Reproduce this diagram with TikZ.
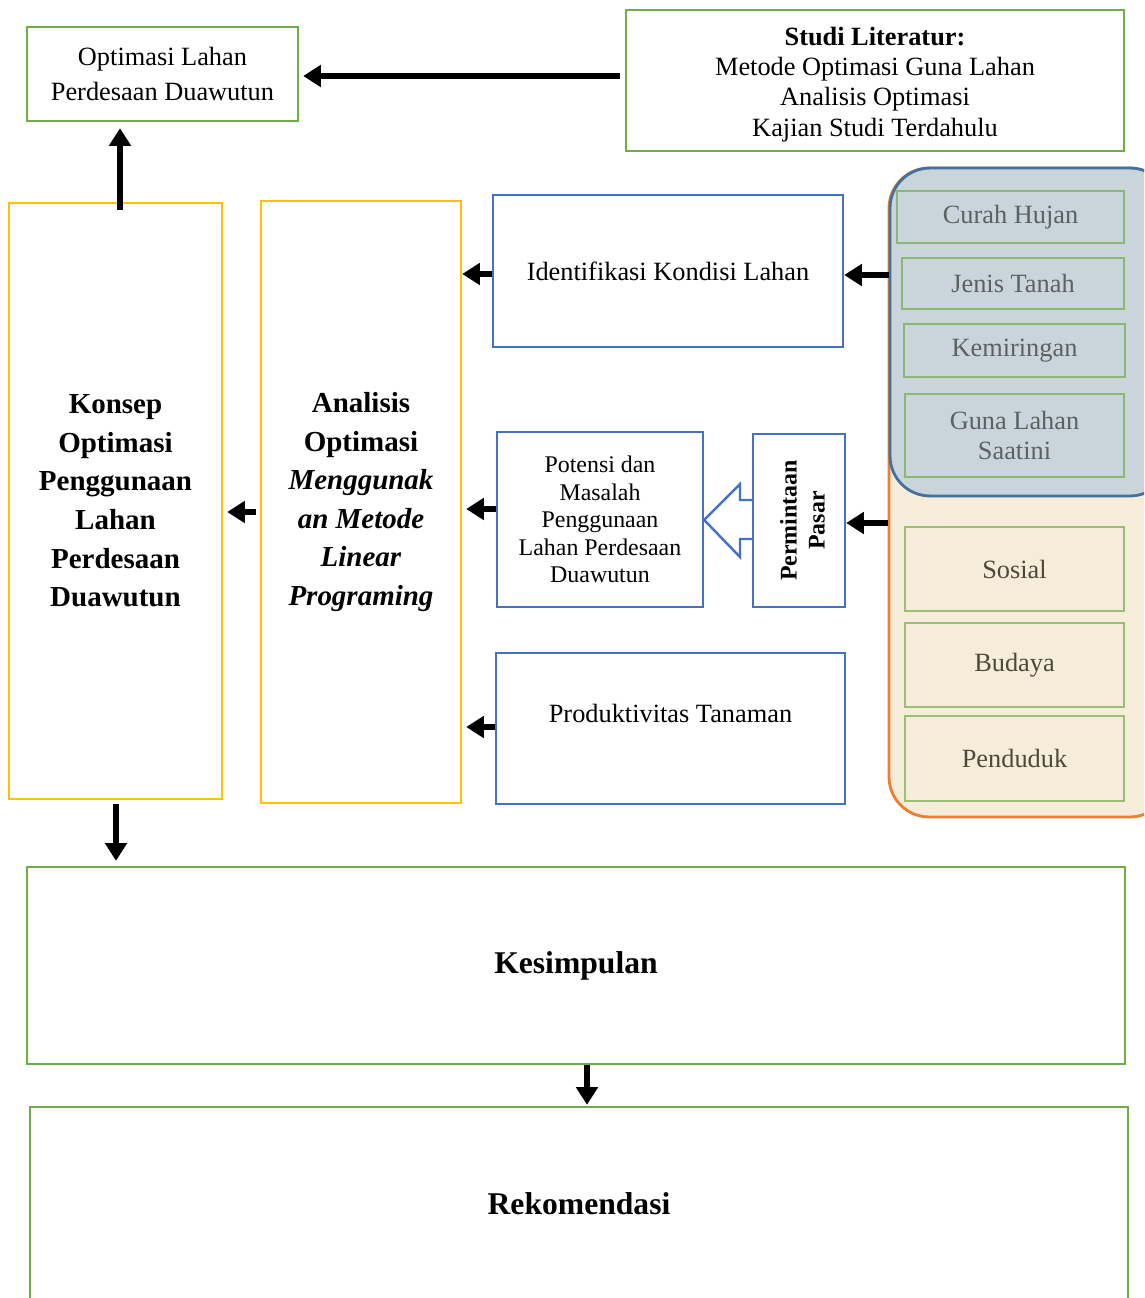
\documentclass[tikz,border=0pt]{standalone}
\usepackage{fontspec}
\setmainfont{Liberation Serif}
\usepackage{graphicx}
\usepackage{tikz}
\usetikzlibrary{arrows.meta}
\definecolor{hijau}{HTML}{70AD47}
\definecolor{kuning}{HTML}{FFC000}
\definecolor{biru}{HTML}{4472C4}
\definecolor{birutua}{HTML}{41719C}
\definecolor{oranye}{HTML}{ED7D31}
\definecolor{abu}{HTML}{C9D5DB}
\definecolor{krem}{HTML}{F5EDDA}
\definecolor{teksabu}{HTML}{5A6262}
\definecolor{tekscoklat}{HTML}{4E4839}
\tikzset{
  hbox/.style={draw=hijau, line width=1.4pt, align=center, inner sep=0pt},
  kbox/.style={draw=kuning, line width=1.4pt, align=center, inner sep=0pt, font=\fontsize{16.5}{22}\selectfont\bfseries},
  bbox/.style={draw=biru, line width=1.4pt, align=center, inner sep=0pt},
  sub/.style={draw=hijau, draw opacity=0.7, line width=1.2pt, align=center, inner sep=0pt, font=\fontsize{15}{17.6}\selectfont},
  panel/.style={line width=1.6pt, rounded corners=0.8cm, inner sep=0pt},
  arr/.style={draw=black, line width=3pt, -{Triangle[width=12pt,length=10pt]}},
  txt/.style={font=\fontsize{15}{20}\selectfont},
}

\begin{document}
\begin{tikzpicture}[x=0.02cm,y=-0.02cm]
  \useasboundingbox (0,0) rectangle (1144,1298);
  \clip (0,0) rectangle (1144,1298);

  % panel kanan
  \node[panel, draw=oranye, fill=krem, minimum width=5.62cm, minimum height=12.98cm] (sosek) at (1029.5,492.5) {};
  \node[panel, draw=birutua, fill=abu, minimum width=5.6cm, minimum height=6.56cm] (fisik) at (1030,332) {};
  \node[sub, text=teksabu, minimum width=4.54cm, minimum height=1.04cm] (curah) at (1010.5,217) {Curah Hujan};
  \node[sub, text=teksabu, minimum width=4.44cm, minimum height=1.02cm] (tanah) at (1013,283.5) {Jenis Tanah};
  \node[sub, text=teksabu, minimum width=4.42cm, minimum height=1.06cm] (miring) at (1014.5,350.5) {Kemiringan};
  \node[sub, text=teksabu, minimum width=4.38cm, minimum height=1.66cm] (guna) at (1014.5,435.5) {Guna Lahan\\Saatini};
  \node[sub, text=tekscoklat, minimum width=4.38cm, minimum height=1.68cm] (sosial) at (1014.5,569) {Sosial};
  \node[sub, text=tekscoklat, minimum width=4.38cm, minimum height=1.68cm] (budaya) at (1014.5,665) {Budaya};
  \node[sub, text=tekscoklat, minimum width=4.38cm, minimum height=1.7cm] (penduduk) at (1014.5,758.5) {Penduduk};

  \node[hbox, minimum width=5.42cm, minimum height=1.88cm, font=\fontsize{15}{20.4}\selectfont] (opt) at (162.5,74) {Optimasi Lahan\\Perdesaan Duawutun};
  \node[hbox, minimum width=9.96cm, minimum height=2.82cm,
    label={[font=\fontsize{15}{17.2}\selectfont, align=center, yshift=-0.08cm]center:\textbf{Studi Literatur:}\\Metode Optimasi Guna Lahan\\Analisis Optimasi\\Kajian Studi Terdahulu}] (studi) at (875,80.5) {};

  \node[kbox, minimum width=4.26cm, minimum height=11.92cm] (konsep) at (115.5,501)
    {Konsep\\Optimasi\\Penggunaan\\Lahan\\Perdesaan\\Duawutun};
  \node[kbox, minimum width=4cm, minimum height=12.04cm] (analisis) at (361,502)
    {Analisis\\Optimasi\\\textit{Menggunak}\\\textit{an Metode}\\\textit{Linear}\\\textit{Programing}};

  \node[bbox, txt, minimum width=7cm, minimum height=3.04cm] (ident) at (668,271) {Identifikasi Kondisi Lahan};
  \node[bbox, minimum width=4.12cm, minimum height=3.5cm, font=\fontsize{13.6}{15.6}\selectfont] (potensi) at (600,519.5)
    {Potensi dan\\Masalah\\Penggunaan\\Lahan Perdesaan\\Duawutun};
  \node[bbox, minimum width=1.84cm, minimum height=3.46cm, font=\fontsize{13.6}{16}\selectfont\bfseries] (pasar) at (799,520.5)
    {\hspace{0.24cm}\rotatebox{90}{\begin{tabular}{@{}c@{}}Permintaan\\Pasar\end{tabular}}};
  \node[bbox, minimum width=6.98cm, minimum height=3.02cm,
    label={[txt, yshift=0.3cm]center:Produktivitas Tanaman}] (prod) at (670.5,728.5) {};

  \node[hbox, minimum width=21.96cm, minimum height=3.94cm, font=\fontsize{18}{22}\selectfont\bfseries] (kesim) at (576,965.5) {Kesimpulan};
  \node[hbox, minimum width=21.96cm, minimum height=3.88cm, font=\fontsize{18}{22}\selectfont\bfseries] (rekom) at (579,1204) {Rekomendasi};

  % panah blok permintaan
  \draw[draw=biru, line width=1.4pt, fill=white] (pasar.west |- 0,500) -- (740,500) -- (740,484)
    -- (potensi.east |- 0,520) -- (740,557) -- (740,539) -- (pasar.west |- 0,539);

  \draw[arr, shorten <=0.1cm, shorten >=0.08cm] (studi.west |- 0,76) -- (opt.east |- 0,76);
  \draw[arr, shorten <=-0.16cm, shorten >=0.12cm] (konsep.north -| 120,0) -- (opt.south -| 120,0);
  \draw[arr, shorten <=0.08cm, shorten >=0.08cm] (analisis.west |- 0,512) -- (konsep.east |- 0,512);
  \draw[arr] (ident.west |- 0,274) -- (analisis.east |- 0,274);
  \draw[arr, shorten >=0.08cm] (potensi.west |- 0,509) -- (analisis.east |- 0,509);
  \draw[arr, shorten >=0.08cm] (prod.west |- 0,727) -- (analisis.east |- 0,727);
  \draw[arr] (fisik.west |- 0,275) -- (ident.east |- 0,275);
  \draw[arr] (sosek.west |- 0,523) -- (pasar.east |- 0,523);
  \draw[arr, shorten <=0.08cm, shorten >=0.1cm] (konsep.south -| 116,0) -- (kesim.north -| 116,0);
  \draw[arr, shorten >=0.02cm] (kesim.south -| 587,0) -- (rekom.north -| 587,0);
\end{tikzpicture}
\end{document}
